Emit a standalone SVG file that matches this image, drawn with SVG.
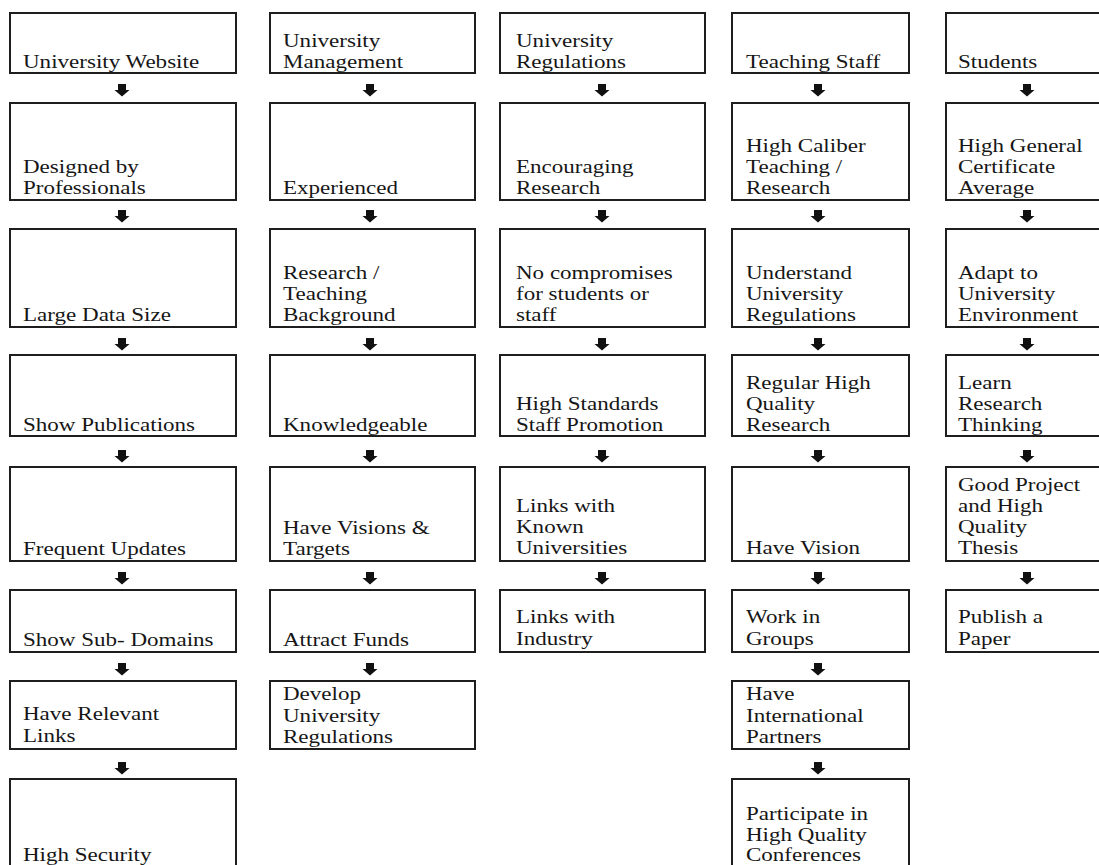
<svg xmlns="http://www.w3.org/2000/svg" width="1099" height="865" viewBox="0 0 1099 865">
<style>
.box{fill:#fff;stroke:#1e1e1e;stroke-width:2}
.t{font-family:"Liberation Serif","Times New Roman",serif;font-size:18px;fill:#161616}
.arr{fill:#111}
</style>
<defs>
<path id="ar" d="M-4,0 H4 V6 H7.5 L0,12.5 L-7.5,6 H-4 Z"/>
</defs>
<rect width="1099" height="865" fill="#fff"/>
<g id="connectors" class="arr">
<use href="#ar" x="122" y="84"/><use href="#ar" x="122" y="210"/><use href="#ar" x="122" y="338"/><use href="#ar" x="122" y="450"/><use href="#ar" x="122" y="572"/><use href="#ar" x="122" y="663"/><use href="#ar" x="122" y="762"/>
<use href="#ar" x="370" y="84"/><use href="#ar" x="370" y="210"/><use href="#ar" x="370" y="338"/><use href="#ar" x="370" y="450"/><use href="#ar" x="370" y="572"/><use href="#ar" x="370" y="663"/>
<use href="#ar" x="602" y="84"/><use href="#ar" x="602" y="210"/><use href="#ar" x="602" y="338"/><use href="#ar" x="602" y="450"/><use href="#ar" x="602" y="572"/>
<use href="#ar" x="818" y="84"/><use href="#ar" x="818" y="210"/><use href="#ar" x="818" y="338"/><use href="#ar" x="818" y="450"/><use href="#ar" x="818" y="572"/><use href="#ar" x="818" y="663"/><use href="#ar" x="818" y="762"/>
<use href="#ar" x="1027" y="84"/><use href="#ar" x="1027" y="210"/><use href="#ar" x="1027" y="338"/><use href="#ar" x="1027" y="450"/><use href="#ar" x="1027" y="572"/>
</g>

<!-- Column 1 -->
<g id="c1r1"><rect class="box" x="10" y="13" width="226" height="60"/><text class="t" transform="matrix(1.28 0 0 1 23 68)"><tspan x="0" y="0">University Website</tspan></text></g>
<g id="c1r2"><rect class="box" x="10" y="103" width="226" height="97"/><text class="t" transform="matrix(1.28 0 0 1 23 173)"><tspan x="0" y="0">Designed by</tspan><tspan x="0" y="21">Professionals</tspan></text></g>
<g id="c1r3"><rect class="box" x="10" y="229" width="226" height="98"/><text class="t" transform="matrix(1.28 0 0 1 23 321)"><tspan x="0" y="0">Large Data Size</tspan></text></g>
<g id="c1r4"><rect class="box" x="10" y="355" width="226" height="81"/><text class="t" transform="matrix(1.28 0 0 1 23 431)"><tspan x="0" y="0">Show Publications</tspan></text></g>
<g id="c1r5"><rect class="box" x="10" y="467" width="226" height="94"/><text class="t" transform="matrix(1.28 0 0 1 23 555)"><tspan x="0" y="0">Frequent Updates</tspan></text></g>
<g id="c1r6"><rect class="box" x="10" y="590" width="226" height="62"/><text class="t" transform="matrix(1.28 0 0 1 23 646)"><tspan x="0" y="0">Show Sub- Domains</tspan></text></g>
<g id="c1r7"><rect class="box" x="10" y="681" width="226" height="68"/><text class="t" transform="matrix(1.28 0 0 1 23 720)"><tspan x="0" y="0">Have Relevant</tspan><tspan x="0" y="22">Links</tspan></text></g>
<g id="c1r8"><rect class="box" x="10" y="779" width="226" height="110"/><text class="t" transform="matrix(1.28 0 0 1 23 861)"><tspan x="0" y="0">High Security</tspan></text></g>

<!-- Column 2 -->
<g id="c2r1"><rect class="box" x="270" y="13" width="205" height="60"/><text class="t" transform="matrix(1.28 0 0 1 283 47)"><tspan x="0" y="0">University</tspan><tspan x="0" y="21">Management</tspan></text></g>
<g id="c2r2"><rect class="box" x="270" y="103" width="205" height="97"/><text class="t" transform="matrix(1.28 0 0 1 283 194)"><tspan x="0" y="0">Experienced</tspan></text></g>
<g id="c2r3"><rect class="box" x="270" y="229" width="205" height="98"/><text class="t" transform="matrix(1.28 0 0 1 283 279)"><tspan x="0" y="0">Research /</tspan><tspan x="0" y="21">Teaching</tspan><tspan x="0" y="42">Background</tspan></text></g>
<g id="c2r4"><rect class="box" x="270" y="355" width="205" height="81"/><text class="t" transform="matrix(1.28 0 0 1 283 431)"><tspan x="0" y="0">Knowledgeable</tspan></text></g>
<g id="c2r5"><rect class="box" x="270" y="467" width="205" height="94"/><text class="t" transform="matrix(1.28 0 0 1 283 534)"><tspan x="0" y="0">Have Visions &amp;</tspan><tspan x="0" y="21">Targets</tspan></text></g>
<g id="c2r6"><rect class="box" x="270" y="590" width="205" height="62"/><text class="t" transform="matrix(1.28 0 0 1 283 646)"><tspan x="0" y="0">Attract Funds</tspan></text></g>
<g id="c2r7"><rect class="box" x="270" y="681" width="205" height="68"/><text class="t" transform="matrix(1.28 0 0 1 283 700)"><tspan x="0" y="0">Develop</tspan><tspan x="0" y="22">University</tspan><tspan x="0" y="43">Regulations</tspan></text></g>

<!-- Column 3 -->
<g id="c3r1"><rect class="box" x="500" y="13" width="205" height="60"/><text class="t" transform="matrix(1.28 0 0 1 516 47)"><tspan x="0" y="0">University</tspan><tspan x="0" y="21">Regulations</tspan></text></g>
<g id="c3r2"><rect class="box" x="500" y="103" width="205" height="97"/><text class="t" transform="matrix(1.28 0 0 1 516 173)"><tspan x="0" y="0">Encouraging</tspan><tspan x="0" y="21">Research</tspan></text></g>
<g id="c3r3"><rect class="box" x="500" y="229" width="205" height="98"/><text class="t" transform="matrix(1.28 0 0 1 516 279)"><tspan x="0" y="0">No compromises</tspan><tspan x="0" y="21">for students or</tspan><tspan x="0" y="42">staff</tspan></text></g>
<g id="c3r4"><rect class="box" x="500" y="355" width="205" height="81"/><text class="t" transform="matrix(1.28 0 0 1 516 410)"><tspan x="0" y="0">High Standards</tspan><tspan x="0" y="21">Staff Promotion</tspan></text></g>
<g id="c3r5"><rect class="box" x="500" y="467" width="205" height="94"/><text class="t" transform="matrix(1.28 0 0 1 516 512)"><tspan x="0" y="0">Links with</tspan><tspan x="0" y="21">Known</tspan><tspan x="0" y="42">Universities</tspan></text></g>
<g id="c3r6"><rect class="box" x="500" y="590" width="205" height="62"/><text class="t" transform="matrix(1.28 0 0 1 516 623)"><tspan x="0" y="0">Links with</tspan><tspan x="0" y="22">Industry</tspan></text></g>

<!-- Column 4 -->
<g id="c4r1"><rect class="box" x="732" y="13" width="177" height="60"/><text class="t" transform="matrix(1.28 0 0 1 746 68)"><tspan x="0" y="0">Teaching  Staff</tspan></text></g>
<g id="c4r2"><rect class="box" x="732" y="103" width="177" height="97"/><text class="t" transform="matrix(1.28 0 0 1 746 152)"><tspan x="0" y="0">High Caliber</tspan><tspan x="0" y="21">Teaching /</tspan><tspan x="0" y="42">Research</tspan></text></g>
<g id="c4r3"><rect class="box" x="732" y="229" width="177" height="98"/><text class="t" transform="matrix(1.28 0 0 1 746 279)"><tspan x="0" y="0">Understand</tspan><tspan x="0" y="21">University</tspan><tspan x="0" y="42">Regulations</tspan></text></g>
<g id="c4r4"><rect class="box" x="732" y="355" width="177" height="81"/><text class="t" transform="matrix(1.28 0 0 1 746 389)"><tspan x="0" y="0">Regular High</tspan><tspan x="0" y="21">Quality</tspan><tspan x="0" y="42">Research</tspan></text></g>
<g id="c4r5"><rect class="box" x="732" y="467" width="177" height="94"/><text class="t" transform="matrix(1.28 0 0 1 746 554)"><tspan x="0" y="0">Have Vision</tspan></text></g>
<g id="c4r6"><rect class="box" x="732" y="590" width="177" height="62"/><text class="t" transform="matrix(1.28 0 0 1 746 623)"><tspan x="0" y="0">Work in</tspan><tspan x="0" y="22">Groups</tspan></text></g>
<g id="c4r7"><rect class="box" x="732" y="681" width="177" height="68"/><text class="t" transform="matrix(1.28 0 0 1 746 700)"><tspan x="0" y="0">Have</tspan><tspan x="0" y="22">International</tspan><tspan x="0" y="43">Partners</tspan></text></g>
<g id="c4r8"><rect class="box" x="732" y="779" width="177" height="110"/><text class="t" transform="matrix(1.28 0 0 1 746 820)"><tspan x="0" y="0">Participate in</tspan><tspan x="0" y="21">High Quality</tspan><tspan x="0" y="41">Conferences</tspan></text></g>

<!-- Column 5 -->
<g id="c5r1"><rect class="box" x="946" y="13" width="162" height="60"/><text class="t" transform="matrix(1.28 0 0 1 958 68)"><tspan x="0" y="0">Students</tspan></text></g>
<g id="c5r2"><rect class="box" x="946" y="103" width="162" height="97"/><text class="t" transform="matrix(1.28 0 0 1 958 152)"><tspan x="0" y="0">High General</tspan><tspan x="0" y="21">Certificate</tspan><tspan x="0" y="42">Average</tspan></text></g>
<g id="c5r3"><rect class="box" x="946" y="229" width="162" height="98"/><text class="t" transform="matrix(1.28 0 0 1 958 279)"><tspan x="0" y="0">Adapt to</tspan><tspan x="0" y="21">University</tspan><tspan x="0" y="42">Environment</tspan></text></g>
<g id="c5r4"><rect class="box" x="946" y="355" width="162" height="81"/><text class="t" transform="matrix(1.28 0 0 1 958 389)"><tspan x="0" y="0">Learn</tspan><tspan x="0" y="21">Research</tspan><tspan x="0" y="42">Thinking</tspan></text></g>
<g id="c5r5"><rect class="box" x="946" y="467" width="162" height="94"/><text class="t" transform="matrix(1.28 0 0 1 958 491)"><tspan x="0" y="0">Good Project</tspan><tspan x="0" y="21">and High</tspan><tspan x="0" y="42">Quality</tspan><tspan x="0" y="63">Thesis</tspan></text></g>
<g id="c5r6"><rect class="box" x="946" y="590" width="162" height="62"/><text class="t" transform="matrix(1.28 0 0 1 958 623)"><tspan x="0" y="0">Publish a</tspan><tspan x="0" y="22">Paper</tspan></text></g>
</svg>
